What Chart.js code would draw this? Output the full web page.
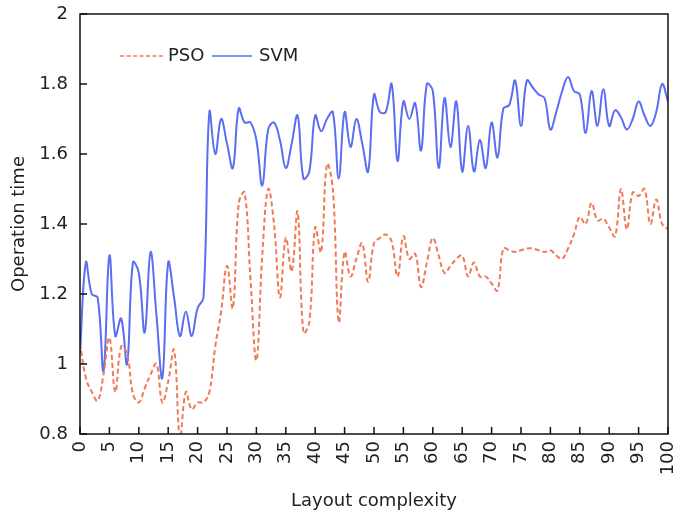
<!DOCTYPE html>
<html>
<head>
<meta charset="utf-8">
<script src="https://cdn.jsdelivr.net/npm/chart.js@4"></script>
<style>
  html, body { margin: 0; padding: 0; background: #fff; }
  #wrap { width: 678px; height: 517px; position: relative; }
</style>
</head>
<body>
<div id="wrap"><canvas id="chart"></canvas></div>
<script>
// layout complexity (x)
const complexity = [
    0, 1, 2, 3, 4, 5, 6, 7, 8, 9,
    10, 11, 12, 13, 14, 15, 16, 17, 18, 19,
    20, 21, 22, 23, 24, 25, 26, 27, 28, 29,
    30, 31, 32, 33, 34, 35, 36, 37, 38, 39,
    40, 41, 42, 43, 44, 45, 46, 47, 48, 49,
    50, 51, 52, 53, 54, 55, 56, 57, 58, 59,
    60, 61, 62, 63, 64, 65, 66, 67, 68, 69,
    70, 71, 72, 73, 74, 75, 76, 77, 78, 79,
    80, 81, 82, 83, 84, 85, 86, 87, 88, 89,
    90, 91, 92, 93, 94, 95, 96, 97, 98, 99,
    100
];

const psoTime = [
    1.06, 0.96, 0.92, 0.895, 0.97, 1.075, 0.92, 1.05, 1.03, 0.915,
    0.89, 0.93, 0.97, 1.00, 0.89, 0.95, 1.04, 0.79, 0.92, 0.87,
    0.89, 0.89, 0.92, 1.05, 1.15, 1.28, 1.16, 1.46, 1.49, 1.24,
    1.01, 1.31, 1.50, 1.40, 1.19, 1.36, 1.265, 1.435, 1.09, 1.12,
    1.39, 1.32, 1.57, 1.50, 1.12, 1.32, 1.25, 1.30, 1.345, 1.235,
    1.345, 1.36, 1.37, 1.35, 1.25, 1.365, 1.30, 1.315, 1.22, 1.29,
    1.36, 1.31, 1.26, 1.28, 1.30, 1.31, 1.25, 1.29, 1.25, 1.25,
    1.23, 1.21, 1.33, 1.325, 1.32, 1.325, 1.33, 1.33, 1.325, 1.32,
    1.325, 1.31, 1.30, 1.33, 1.37, 1.42, 1.40, 1.46, 1.41, 1.415,
    1.39, 1.365, 1.50, 1.385, 1.49, 1.48, 1.50, 1.40, 1.47, 1.40,
    1.385
];

const svmTime = [
    1.03, 1.29, 1.20, 1.19, 0.98, 1.31, 1.08, 1.13, 1.00, 1.29,
    1.26, 1.09, 1.32, 1.14, 0.96, 1.29, 1.19, 1.08, 1.15, 1.08,
    1.16, 1.19, 1.72, 1.60, 1.70, 1.63, 1.56, 1.73, 1.69, 1.69,
    1.64, 1.51, 1.67, 1.69, 1.64, 1.56, 1.63, 1.71, 1.53, 1.55,
    1.71, 1.665, 1.70, 1.72, 1.53, 1.72, 1.62, 1.70, 1.63, 1.55,
    1.77, 1.72, 1.72, 1.80, 1.58, 1.75, 1.70, 1.745, 1.61, 1.80,
    1.78, 1.56, 1.76, 1.62, 1.75, 1.55, 1.68, 1.55, 1.64, 1.56,
    1.69, 1.59, 1.73, 1.74, 1.81, 1.68, 1.81, 1.79, 1.77, 1.76,
    1.67, 1.72, 1.78, 1.82, 1.78, 1.77, 1.66, 1.78, 1.68, 1.785,
    1.68, 1.725, 1.705, 1.67, 1.70, 1.75, 1.71, 1.68, 1.72, 1.80,
    1.75
];

const xTickValues = [0, 5, 10, 15, 20, 25, 30, 35, 40, 45, 50, 55, 60, 65, 70, 75, 80, 85, 90, 95, 100];
const yTickValues = [0.8, 1, 1.2, 1.4, 1.6, 1.8, 2];
const yTickLabels = ['0.8', '1', '1.2', '1.4', '1.6', '1.8', '2'];

const psoColor = '#f07a55';
const svmColor = '#5a6ef0';
const fontFamily = '"DejaVu Sans", Verdana, sans-serif';

// box round the plot, inward ticks and the legend inside the plot
const framePlugin = {
    id: 'frame',
    afterDatasetsDraw(chart) {
        const {ctx, chartArea: a, scales: {x, y}} = chart;
        ctx.save();
        ctx.strokeStyle = '#111';
        ctx.lineWidth = 1.5;
        ctx.setLineDash([]);
        ctx.strokeRect(a.left, a.top, a.right - a.left, a.bottom - a.top);
        ctx.beginPath();
        xTickValues.forEach(v => {
            const px = x.getPixelForValue(v);
            ctx.moveTo(px, a.bottom);
            ctx.lineTo(px, a.bottom - 7);
        });
        yTickValues.forEach(v => {
            const py = y.getPixelForValue(v);
            ctx.moveTo(a.left, py);
            ctx.lineTo(a.left + 7, py);
        });
        ctx.stroke();

        // legend
        const ly = a.top + 42;
        ctx.font = '18px ' + fontFamily;
        ctx.textBaseline = 'middle';
        ctx.fillStyle = '#222';
        ctx.lineWidth = 1.5;
        ctx.strokeStyle = psoColor;
        ctx.setLineDash([4, 2.5]);
        ctx.beginPath();
        ctx.moveTo(a.left + 40, ly);
        ctx.lineTo(a.left + 84, ly);
        ctx.stroke();
        ctx.fillText('PSO', a.left + 88, ly);
        ctx.strokeStyle = svmColor;
        ctx.setLineDash([]);
        ctx.beginPath();
        ctx.moveTo(a.left + 132, ly);
        ctx.lineTo(a.left + 172, ly);
        ctx.stroke();
        ctx.fillText('SVM', a.left + 179, ly);
        ctx.restore();
    }
};

new Chart(document.getElementById('chart'), {
    type: 'line',
    data: {
        labels: complexity,
        datasets: [
            {
                label: 'PSO',
                data: psoTime,
                borderColor: psoColor,
                borderWidth: 2,
                borderDash: [5, 3],
                pointRadius: 0,
                tension: 0.4,
                fill: false,
            },
            {
                label: 'SVM',
                data: svmTime,
                borderColor: svmColor,
                borderWidth: 2,
                pointRadius: 0,
                tension: 0.4,
                fill: false,
            },
        ],
    },
    options: {
        responsive: true,
        maintainAspectRatio: false,
        animation: false,
        layout: {
            padding: {top: 14, right: 10, bottom: 0, left: 0},
        },
        scales: {
            x: {
                type: 'linear',
                min: 0,
                max: 100,
                afterBuildTicks: (scale) => {
                    scale.ticks = xTickValues.map(v => ({value: v}));
                },
                afterFit: (scale) => {
                    scale.height = 83;
                    scale.paddingLeft = 0;
                    scale.paddingRight = 10;
                },
                border: {display: false},
                grid: {display: false, drawTicks: false},
                ticks: {
                    autoSkip: false,
                    minRotation: 90,
                    maxRotation: 90,
                    padding: 7,
                    color: '#222',
                    font: {family: fontFamily, size: 18},
                    callback: (v) => String(v),
                },
                title: {
                    display: true,
                    text: 'Layout complexity',
                    color: '#222',
                    font: {family: fontFamily, size: 18},
                    padding: {top: 0, bottom: 5},
                },
            },
            y: {
                min: 0.8,
                max: 2,
                afterBuildTicks: (scale) => {
                    scale.ticks = yTickValues.map(v => ({value: v}));
                },
                afterFit: (scale) => {
                    scale.width = 80;
                    scale.paddingTop = 0;
                    scale.paddingBottom = 0;
                },
                border: {display: false},
                grid: {display: false, drawTicks: false},
                ticks: {
                    padding: 12,
                    color: '#222',
                    font: {family: fontFamily, size: 18},
                    callback: (v) => yTickLabels[yTickValues.findIndex(t => Math.abs(t - v) < 1e-6)],
                },
                title: {
                    display: true,
                    text: 'Operation time',
                    color: '#222',
                    font: {family: fontFamily, size: 18},
                    padding: {top: 9, bottom: 0},
                },
            },
        },
        plugins: {
            legend: {display: false},
            tooltip: {enabled: false},
        },
    },
    plugins: [framePlugin],
});
</script>
</body>
</html>
